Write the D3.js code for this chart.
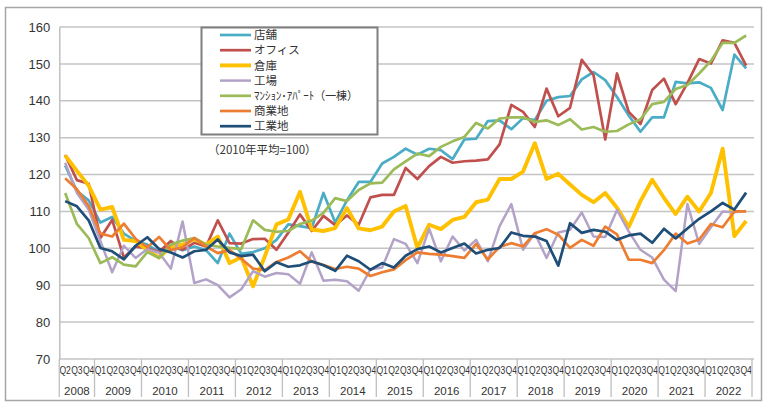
<!DOCTYPE html>
<html><head><meta charset="utf-8">
<script src="https://cdn.jsdelivr.net/npm/d3@7"></script>
<style>
html,body{margin:0;padding:0;background:#fff;}
svg{display:block;}
text{font-family:"Liberation Sans",Arial,sans-serif;fill:#333;}
.jp{font-family:"Noto Sans CJK JP","Liberation Sans",sans-serif;}
</style></head>
<body>
<svg id="chart" width="768" height="408"></svg>
<script>
const years = ["2008","2009","2010","2011","2012","2013","2014","2015","2016","2017","2018","2019","2020","2021","2022"];
const quarters = ["Q2","Q3","Q4"].concat(...years.slice(1).map(()=>["Q1","Q2","Q3","Q4"]));
const yTicks = [70,80,90,100,110,120,130,140,150,160];
const seriesNames = ["店舗","オフィス","倉庫","工場","ﾏﾝｼｮﾝ･ｱﾊﾟｰﾄ（一棟）","商業地","工業地"];
const seriesColors = ["#4BACC6","#C0504D","#FFC000","#B3A2C7","#9BBB59","#ED7D31","#1F4E79"];

const shop = [122.5,115.5,113,107,108.5,104,102,101,99,100.5,99.5,100.5,99.5,96,104,98.5,99,100,102.3,106.5,106,105.5,115,107,113,118,118,123,124.8,127,125.4,127,126.6,124.2,129.5,129.7,134.5,134.7,132.3,135.3,134.8,140,141,141.3,145.8,147.8,145.6,141,136,131.6,135.5,135.5,145.1,144.7,145,143.5,137.5,152.5,148.8];
const office = [125.3,118.5,117.5,102.8,107.7,97.5,100.5,100,99,102,99.6,101.5,100.5,107.6,101.4,101.3,102.5,102.6,99.6,104.2,109.2,104.7,108.8,106.3,108.9,106.4,113.8,114.5,114.5,121.8,118.8,122.3,124.8,123.2,123.6,123.8,124.1,128.2,138.9,137,132.9,143.3,135.8,138.1,151.1,147,129.5,147.4,137,133.7,142.9,146,139.1,144.8,151.3,150.1,156.4,155.7,149.5];
const warehouse = [125.2,121,117,110.5,111.2,102.3,102,99.5,97.5,100.5,101,102.5,101,103.2,96,97.6,89.7,97.8,106.5,107.8,115.3,105.1,104.7,105.5,110.9,105.4,104.9,105.9,110,111.5,100.1,106.4,105.2,107.7,108.5,112.5,113.2,118.8,118.8,120.8,128.5,118.8,120.2,117.3,114.5,112.5,115,111,105.8,112.8,118.6,113.7,109.3,114,110,115,127,103.3,107.4];
const factory = [123.2,115,110.5,102,93.5,100.7,97.4,99.8,98.8,94.5,107.3,90.6,91.6,90,86.7,88.9,93.8,92.3,93.3,93,90.4,98.9,91.2,91.5,91.1,88.5,94.3,94.8,102.5,101.2,96,105.3,96.5,103.2,99.4,102.3,96.5,106,112,99.6,104.1,97.4,104.3,105,109.7,103.2,103.1,110.4,104.6,99.6,97.5,91.5,88.4,112,101.2,105.7,110,109.8,110.1];
const apartment = [115,106.6,102.8,96,97.6,95.6,95.1,99,97.4,101,102.1,102.8,101,100.5,100.1,99.8,107.6,105,104.5,104.7,106.6,107.5,109.6,113.6,112.8,115.8,117.6,117.8,121.4,123.6,125.7,125,127.5,129,130.2,134,132.5,135.2,135.5,135.5,134.3,134.7,133.4,135,132.2,132.9,131.6,131.8,133.6,135,139.1,139.7,143.2,144.3,147.4,150.8,155.7,155.7,157.7];
const commercial = [119,116,111.5,104,103.2,106.7,102.6,100.3,103.1,99.5,100.3,102.8,100.5,98.7,99.5,97.2,94.5,94.1,96.3,97.5,99.2,96.4,95.5,94.4,95,94.5,92.5,93.5,94.3,96.8,98.9,98.5,98.3,97.9,97.4,101.2,97,100.4,101.4,100.5,104.1,105.2,103.7,100.1,102.3,100.7,105.9,103.8,96.9,96.9,96,99.5,104,101.3,102.4,106.6,105.7,110,110];
const industrial = [112.8,111.4,107.6,100.1,99.2,97,100.7,103,99.8,98.9,97.5,99.2,99.6,102.4,98.9,97.9,98.3,93.8,96.2,95,95.4,96.5,95.4,93.9,98,96.5,94.2,96,94.8,98,99.8,100.5,98.9,100.1,101.3,98.6,99.6,100.1,104.3,103.4,103.2,102,95.3,106.8,104.2,105,104.5,102.3,103.5,104,101.5,105.3,102.7,105.4,108,110,112.3,110.5,115.1];
const seriesValues = [shop, office, warehouse, factory, apartment, commercial, industrial];
const seriesWidths = [2.7,2.7,3.9,2.5,2.7,2.7,2.7];

(function(){
const svg = d3.select("#chart");
svg.append("rect").attr("x",5.5).attr("y",7.5).attr("width",756).attr("height",393)
  .attr("fill","#fff").attr("stroke","#a6a6a6").attr("stroke-width",1.5);

const pL = 59.3, pR = 752, pT = 27, pB = 359;
const idx = d3.range(quarters.length);
const x = d3.scaleBand().domain(idx).range([pL, pR]).padding(0);
const y = d3.scaleLinear().domain([70,160]).range([pB, pT]);

svg.append("g").selectAll("line").data(yTicks).join("line")
  .attr("x1",pL).attr("x2",pR+2).attr("y1",d=>y(d)).attr("y2",d=>y(d))
  .attr("stroke","#c4c4c4").attr("stroke-width",1.5);

const yAxis = d3.axisLeft(y).tickValues(yTicks).tickSize(0).tickPadding(9);
const gy = svg.append("g").attr("transform",`translate(${pL},0)`).call(yAxis);
gy.select(".domain").attr("stroke","#bfbfbf").attr("stroke-width",1.5);
gy.selectAll("text").attr("font-size",13).attr("fill","#333").style("font-family","Liberation Sans, Arial, sans-serif");

const xAxis = d3.axisBottom(x).tickSize(0).tickPadding(7).tickFormat(i=>quarters[i]);
const gx = svg.append("g").attr("transform",`translate(0,${pB})`).call(xAxis);
gx.select(".domain").remove();
gx.selectAll("text").attr("font-size",11).attr("fill","#333")
  .attr("transform","scale(0.78,1)")
  .style("font-family","Liberation Sans, Arial, sans-serif");

const yearStart = [0]; let k=3; for(let j=1;j<years.length;j++){yearStart.push(k);k+=4;}
const sepX = yearStart.map(s=>x(s)).concat([pR]);
svg.append("g").selectAll("line").data(sepX).join("line")
  .attr("x1",d=>d).attr("x2",d=>d).attr("y1",pB).attr("y2",397)
  .attr("stroke","#bfbfbf").attr("stroke-width",1.3);
svg.append("g").selectAll("text").data(years).join("text")
  .attr("x",(d,j)=>(sepX[j]+sepX[j+1])/2).attr("y",395)
  .attr("text-anchor","middle").attr("font-size",11.5).text(d=>d);

const line = d3.line().x((d,i)=>x(i)+x.bandwidth()/2).y(d=>y(d));
svg.append("g").selectAll("path").data(seriesValues).join("path")
  .attr("d",d=>line(d)).attr("fill","none")
  .attr("stroke",(d,i)=>seriesColors[i]).attr("stroke-width",(d,i)=>seriesWidths[i])
  .attr("stroke-linejoin","round");

const lg = svg.append("g");
lg.append("rect").attr("x",201.5).attr("y",27.5).attr("width",176).attr("height",107)
  .attr("fill","#fff").attr("stroke","#7f7f7f").attr("stroke-width",2);
seriesNames.forEach((n,i)=>{
  const yy = 35 + i*15.2;
  lg.append("line").attr("x1",220).attr("x2",251).attr("y1",yy).attr("y2",yy)
    .attr("stroke",seriesColors[i]).attr("stroke-width",seriesWidths[i]);
  const t = lg.append("text").attr("class","jp").attr("x",254).attr("y",yy+4.2)
    .attr("font-size",11.5).attr("fill","#222").text(n);
  if(i===4) t.attr("textLength",104).attr("lengthAdjust","spacingAndGlyphs");
});
svg.append("text").attr("class","jp").attr("x",208).attr("y",154).attr("font-size",11.5)
  .attr("fill","#222").text("（2010年平均=100）");
})();
</script>
</body></html>
